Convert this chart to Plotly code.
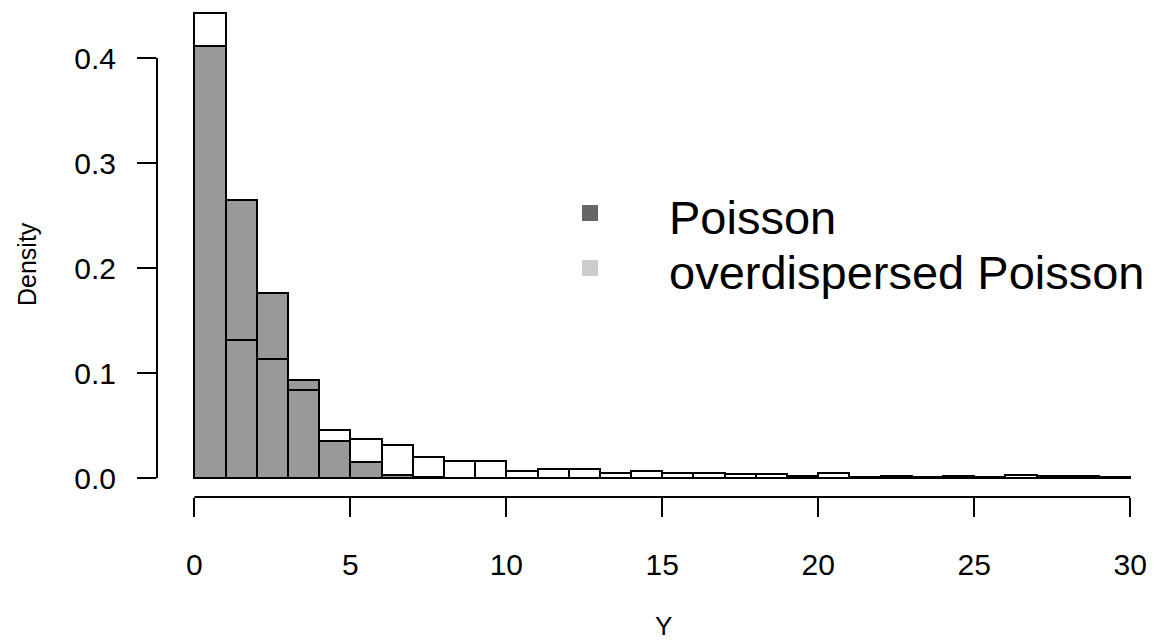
import plotly.graph_objects as go

# ---- data ----
bin_left = [0, 1, 2, 3, 4, 5, 6, 7, 8, 9, 10, 11, 12, 13, 14,
            15, 16, 17, 18, 19, 20, 21, 22, 23, 24, 25, 26, 27, 28, 29]
poisson = [0.411, 0.265, 0.176, 0.093, 0.035, 0.015, 0.0025, 0.001, 0, 0,
           0, 0, 0, 0, 0, 0, 0, 0, 0, 0,
           0, 0, 0, 0, 0, 0, 0, 0, 0, 0]
overdispersed = [0.443, 0.131, 0.113, 0.084, 0.046, 0.037, 0.031, 0.020, 0.016, 0.016,
                 0.007, 0.009, 0.009, 0.0044, 0.0063, 0.0046, 0.0046, 0.0036, 0.0036, 0.0023,
                 0.0046, 0.0005, 0.0016, 0.0005, 0.0016, 0.0005, 0.0026, 0.0016, 0.0016, 0.0005]
x_ticks = [0, 5, 10, 15, 20, 25, 30]
y_ticks = [0.0, 0.1, 0.2, 0.3, 0.4]
legend_labels = ["Poisson", "overdispersed Poisson"]
legend_colors = ["#666666", "#cccccc"]

# ---- layout geometry (pixels) ----
W, H = 1164, 643
L, R, T, B = 157, 0, 0, 146
PW, PH = W - L - R, H - T - B
FONT = "Liberation Sans, Arial, Helvetica, sans-serif"


def px2paper(px, py):
    return (px - L) / PW, (H - B - py) / PH


fig = go.Figure()
fig.add_trace(go.Bar(
    x=bin_left, y=poisson, width=1, offset=0,
    marker=dict(color="#999999", line=dict(color="black", width=2)),
    showlegend=False, name="Poisson"))
fig.add_trace(go.Bar(
    x=bin_left, y=overdispersed, width=1, offset=0,
    marker=dict(color="rgba(255,255,255,0)", line=dict(color="black", width=2)),
    showlegend=False, name="overdispersed Poisson"))

shapes = [
    # R-style detached axis lines spanning the tick range
    dict(type="line", xref="x", yref="paper", x0=x_ticks[0], x1=x_ticks[-1], y0=0, y1=0,
         line=dict(color="black", width=2)),
    dict(type="line", xref="paper", yref="y", x0=0, x1=0, y0=y_ticks[0], y1=y_ticks[-1],
         line=dict(color="black", width=2)),
]

annotations = []
leg_y = [213, 268]
for lab, col, ly in zip(legend_labels, legend_colors, leg_y):
    x0, y0 = px2paper(582, ly + 8)
    x1, y1 = px2paper(598, ly - 8)
    shapes.append(dict(type="rect", xref="paper", yref="paper", x0=x0, x1=x1, y0=y0, y1=y1,
                       fillcolor=col, line=dict(width=0)))
    ax, ay = px2paper(667, ly + 4)
    annotations.append(dict(xref="paper", yref="paper", x=ax, y=ay, text=lab, showarrow=False,
                            xanchor="left", yanchor="middle",
                            font=dict(family=FONT, size=47, color="black")))

# axis titles
tx, ty = px2paper(663, 626)
annotations.append(dict(xref="paper", yref="paper", x=tx, y=ty, text="Y", showarrow=False,
                        xanchor="center", yanchor="middle", borderpad=0,
                        font=dict(family=FONT, size=26, color="black")))
tx, ty = px2paper(27, 264)
annotations.append(dict(xref="paper", yref="paper", x=tx, y=ty, text="Density", showarrow=False,
                        textangle=-90, xanchor="center", yanchor="middle",
                        font=dict(family=FONT, size=25, color="black")))

fig.update_layout(
    width=W, height=H,
    margin=dict(l=L, r=R, t=T, b=B, pad=0),
    paper_bgcolor="white", plot_bgcolor="white",
    barmode="overlay", bargap=0,
    font=dict(family=FONT, size=30, color="black"),
    shapes=shapes, annotations=annotations,
    xaxis=dict(range=[-1.2, -1.2 + PW / 31.19], tickvals=x_ticks, ticks="outside",
               ticklen=19, tickwidth=2, tickcolor="black", showgrid=False, zeroline=False,
               showline=False, tickfont=dict(size=30), ticklabelstandoff=22),
    yaxis=dict(range=[-0.0181, -0.0181 + PH / 1050.0], tickvals=y_ticks, tickformat=".1f",
               ticks="outside", ticklen=19, tickwidth=2, tickcolor="black", showgrid=False,
               zeroline=False, showline=False, tickfont=dict(size=30), ticklabelstandoff=15),
)

fig.write_html("out.html")
